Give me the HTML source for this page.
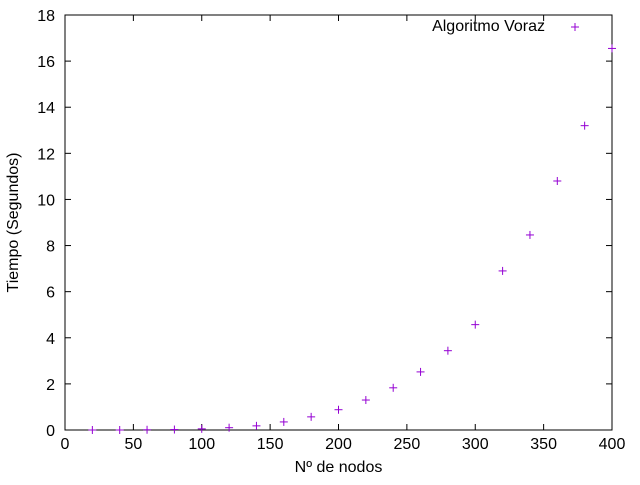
<!DOCTYPE html>
<html><head><meta charset="utf-8"><style>
body{margin:0;background:#fff}
svg text{font-family:"Liberation Sans",sans-serif;font-size:16px;fill:#000}
</style></head><body>
<svg id="chart" width="640" height="480" xmlns="http://www.w3.org/2000/svg"></svg>
<script>
const xValues=[20,40,60,80,100,120,140,160,180,200,220,240,260,280,300,320,340,360,380,400];
const yValues=[0,0,0.01,0.02,0.05,0.1,0.18,0.35,0.57,0.88,1.3,1.83,2.52,3.44,4.57,6.9,8.46,10.8,13.2,16.55];
const xTicks=[0,50,100,150,200,250,300,350,400];
const yTicks=[0,2,4,6,8,10,12,14,16,18];
const L=65,R=612,T=15,B=430;
const sx=v=>L+(v-0)/(400-0)*(R-L);
const sy=v=>B-(v-0)/(18-0)*(B-T);
const svg=document.getElementById('chart');
const NS='http://www.w3.org/2000/svg';
function mk(tag,attrs,parent){const e=document.createElementNS(NS,tag);for(const k in attrs)e.setAttribute(k,attrs[k]);(parent||svg).appendChild(e);return e;}
const axes=mk('g',{});


const border=mk('rect',{x:L,y:T,width:R-L,height:B-T,fill:'none',stroke:'#000','stroke-width':1},axes);


xTicks.forEach(t=>{
  const x=sx(t);
  mk('line',{x1:x,y1:B,x2:x,y2:B-6,stroke:'#000'},axes);
  mk('line',{x1:x,y1:T,x2:x,y2:T+6,stroke:'#000'},axes);
  const tx=mk('text',{x:x,y:B+19,'text-anchor':'middle'},axes);
  tx.textContent=t;
  
  
});
yTicks.forEach(t=>{
  const y=sy(t);
  mk('line',{x1:L,y1:y,x2:L+6,y2:y,stroke:'#000'},axes);
  mk('line',{x1:R,y1:y,x2:R-6,y2:y,stroke:'#000'},axes);
  const tx=mk('text',{x:L-10,y:y+6,'text-anchor':'end'},axes);
  tx.textContent=t;
  
  
});
const xt=mk('text',{x:(L+R)/2,y:472,'text-anchor':'middle'});
xt.textContent='Nº de nodos';


const yt=mk('text',{x:18,y:(T+B)/2,'text-anchor':'middle',transform:'rotate(-90 18 '+((T+B)/2)+')'});
yt.textContent='Tiempo (Segundos)';


const col='#9400d3';
function plus(x,y,g){mk('line',{x1:x-4,y1:y,x2:x+4,y2:y,stroke:col},g);mk('line',{x1:x,y1:y-4,x2:x,y2:y+4,stroke:col},g);}
const series=mk('g',{});


xValues.forEach((v,i)=>{
  const g=mk('g',{},series);
  
  
  plus(sx(v),sy(yValues[i]),g);
});
const leg=mk('g',{});


const lt=mk('text',{x:545,y:31,'text-anchor':'end'},leg);
lt.textContent='Algoritmo Voraz';
plus(575,27,leg);
</script>
</body></html>
